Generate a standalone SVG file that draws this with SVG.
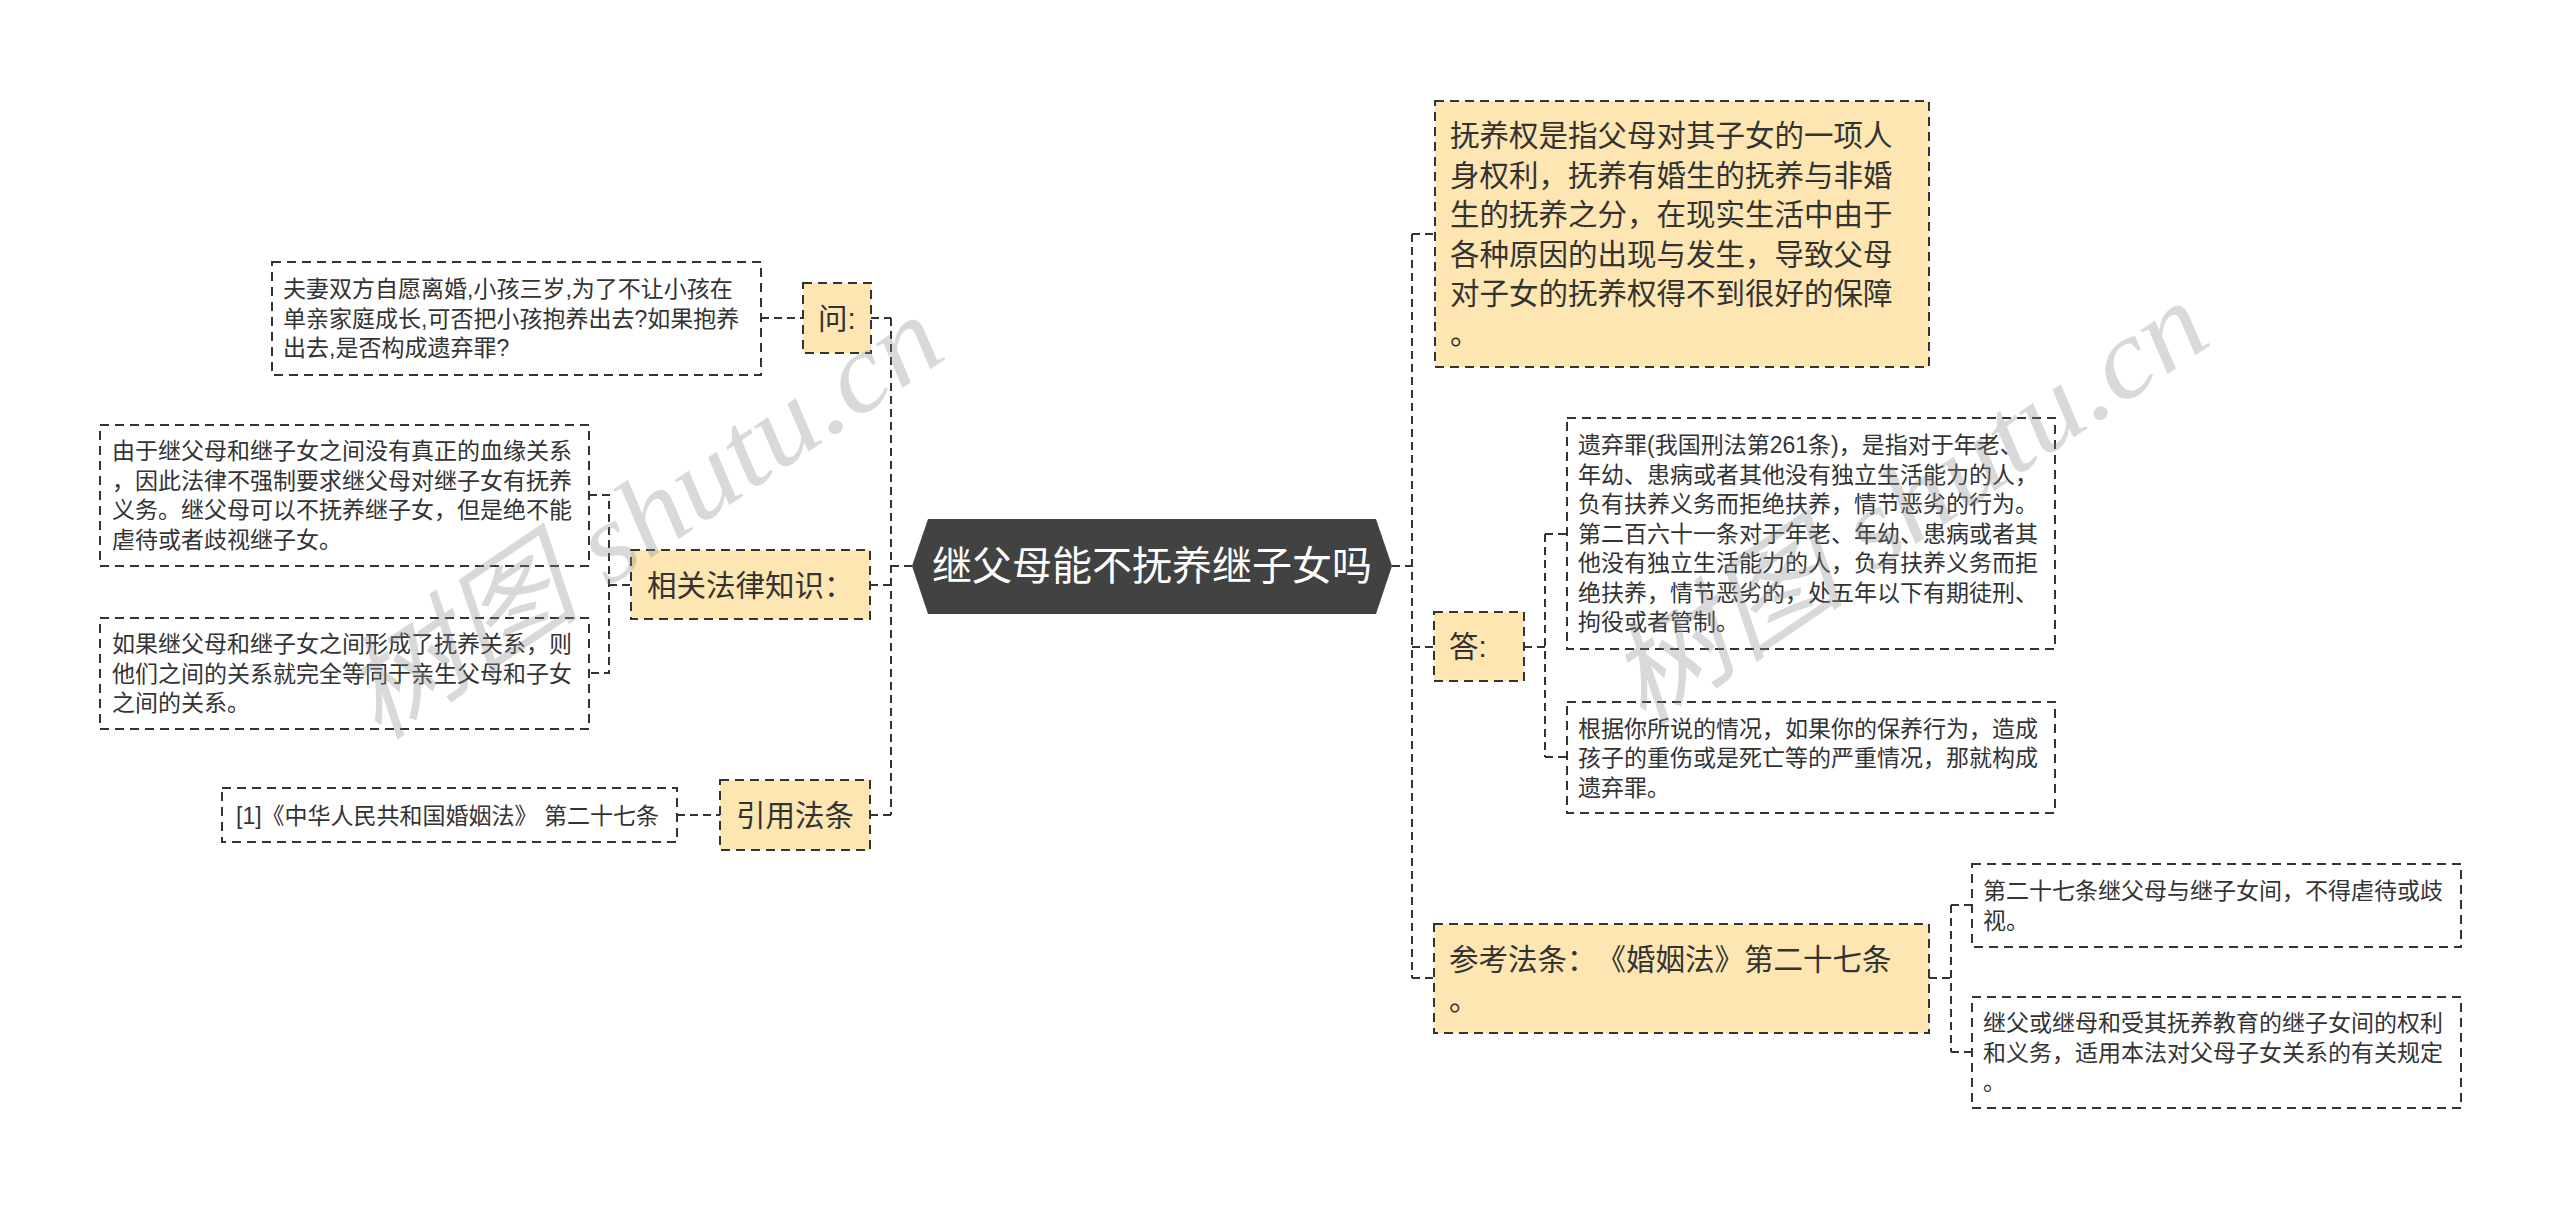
<svg xmlns="http://www.w3.org/2000/svg" width="2560" height="1209" viewBox="0 0 2560 1209">
<style>
text{font-family:"Liberation Sans","Noto Sans CJK SC",sans-serif;fill:#333;text-spacing-trim:space-all}
.leaf{fill:#fff;stroke:#333;stroke-width:2;stroke-dasharray:9 6}
.main{fill:#FDE6B1;stroke:#333;stroke-width:2;stroke-dasharray:9 6}
.t1{font-size:29.5px}
.t2{font-size:23px}
.ctr{font-size:40px;fill:#fff}
.conn path{fill:none;stroke:#333;stroke-width:2;stroke-dasharray:8 5}
.wm{font-family:"Liberation Serif","Noto Sans CJK SC",serif;font-size:112px;fill:#8a8a8a;opacity:0.32;font-style:italic}
</style>
<rect width="2560" height="1209" fill="#fff"/>
<g class="conn" id="connectors">
<path d="M912 566H891M891 318V815M871 318H891M870 585H891M870 815H891"/>
<path d="M761 318H803M677 815H720"/>
<path d="M589 495H609V673H589M609 585H631"/>
<path d="M1392 566H1412M1412 234V978M1412 234H1435M1412 647H1434M1412 978H1434"/>
<path d="M1524 647H1545M1545 534V757M1545 534H1567M1545 757H1567"/>
<path d="M1929 978H1951M1951 905V1052M1951 905H1972M1951 1052H1972"/>
</g>
<g id="center">
<polygon points="912,566 928,519 1376,519 1392,566 1376,614 928,614" fill="#424242"/>
<text class="ctr" x="1152" y="580" text-anchor="middle">继父母能不抚养继子女吗</text>
</g>
<g id="n-wen">
<rect class="main" x="803" y="283" width="68" height="70"/>
<text class="t1" x="818" y="329">问:</text>
</g>
<g id="n-wen-q">
<rect class="leaf" x="272" y="262" width="489" height="113"/>
<text class="t2"><tspan x="283" y="297">夫妻双方自愿离婚,小孩三岁,为了不让小孩在</tspan><tspan x="283" y="326.5">单亲家庭成长,可否把小孩抱养出去?如果抱养</tspan><tspan x="283" y="356">出去,是否构成遗弃罪?</tspan></text>
</g>
<g id="n-law">
<rect class="main" x="631" y="550" width="239" height="69"/>
<text class="t1" x="647" y="596">相关法律知识：</text>
</g>
<g id="n-law-1">
<rect class="leaf" x="100" y="425" width="489" height="141"/>
<text class="t2"><tspan x="112" y="459">由于继父母和继子女之间没有真正的血缘关系</tspan><tspan x="112" y="488.5">，因此法律不强制要求继父母对继子女有抚养</tspan><tspan x="112" y="518">义务。继父母可以不抚养继子女，但是绝不能</tspan><tspan x="112" y="547.5">虐待或者歧视继子女。</tspan></text>
</g>
<g id="n-law-2">
<rect class="leaf" x="100" y="618" width="489" height="111"/>
<text class="t2"><tspan x="112" y="652">如果继父母和继子女之间形成了抚养关系，则</tspan><tspan x="112" y="681.5">他们之间的关系就完全等同于亲生父母和子女</tspan><tspan x="112" y="711">之间的关系。</tspan></text>
</g>
<g id="n-cite">
<rect class="main" x="720" y="780" width="150" height="70"/>
<text class="t1" x="736" y="826">引用法条</text>
</g>
<g id="n-cite-1">
<rect class="leaf" x="222" y="788" width="455" height="54"/>
<text class="t2" x="236" y="823.5">[1]《中华人民共和国婚姻法》 第二十七条</text>
</g>
<g id="n-def">
<rect class="main" x="1435" y="101" width="494" height="266"/>
<text class="t1"><tspan x="1450" y="146">抚养权是指父母对其子女的一项人</tspan><tspan x="1450" y="185.5">身权利，抚养有婚生的抚养与非婚</tspan><tspan x="1450" y="225">生的抚养之分，在现实生活中由于</tspan><tspan x="1450" y="264.5">各种原因的出现与发生，导致父母</tspan><tspan x="1450" y="304">对子女的抚养权得不到很好的保障</tspan><tspan x="1450" y="343.5">。</tspan></text>
</g>
<g id="n-da">
<rect class="main" x="1434" y="612" width="90" height="69"/>
<text class="t1" x="1449" y="657">答:</text>
</g>
<g id="n-da-1">
<rect class="leaf" x="1567" y="418" width="488" height="231"/>
<text class="t2"><tspan x="1578" y="453">遗弃罪(我国刑法第261条)，是指对于年老、</tspan><tspan x="1578" y="482.5">年幼、患病或者其他没有独立生活能力的人，</tspan><tspan x="1578" y="512">负有扶养义务而拒绝扶养，情节恶劣的行为。</tspan><tspan x="1578" y="541.5">第二百六十一条对于年老、年幼、患病或者其</tspan><tspan x="1578" y="571">他没有独立生活能力的人，负有扶养义务而拒</tspan><tspan x="1578" y="600.5">绝扶养，情节恶劣的，处五年以下有期徒刑、</tspan><tspan x="1578" y="630">拘役或者管制。</tspan></text>
</g>
<g id="n-da-2">
<rect class="leaf" x="1567" y="702" width="488" height="111"/>
<text class="t2"><tspan x="1578" y="736.5">根据你所说的情况，如果你的保养行为，造成</tspan><tspan x="1578" y="766">孩子的重伤或是死亡等的严重情况，那就构成</tspan><tspan x="1578" y="795.5">遗弃罪。</tspan></text>
</g>
<g id="n-ref">
<rect class="main" x="1434" y="924" width="495" height="109"/>
<text class="t1"><tspan x="1449" y="970">参考法条：《婚姻法》第二十七条</tspan><tspan x="1449" y="1009.5">。</tspan></text>
</g>
<g id="n-ref-1">
<rect class="leaf" x="1972" y="864" width="489" height="83"/>
<text class="t2"><tspan x="1983" y="899">第二十七条继父母与继子女间，不得虐待或歧</tspan><tspan x="1983" y="928.5">视。</tspan></text>
</g>
<g id="n-ref-2">
<rect class="leaf" x="1972" y="997" width="489" height="111"/>
<text class="t2"><tspan x="1983" y="1031">继父或继母和受其抚养教育的继子女间的权利</tspan><tspan x="1983" y="1060.5">和义务，适用本法对父母子女关系的有关规定</tspan><tspan x="1983" y="1090">。</tspan></text>
</g>
<g id="watermarks">
<text class="wm" transform="translate(378 742) rotate(-34)" textLength="690" lengthAdjust="spacingAndGlyphs">树图 shutu.cn</text>
<text class="wm" transform="translate(1643 728) rotate(-34)" textLength="690" lengthAdjust="spacingAndGlyphs">树图 shutu.cn</text>
</g>
</svg>
